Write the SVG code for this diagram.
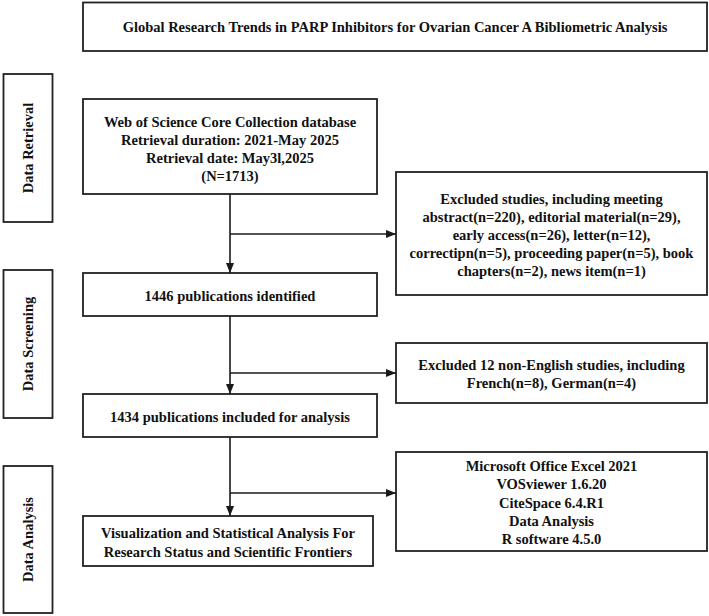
<svg xmlns="http://www.w3.org/2000/svg" width="709" height="616" viewBox="0 0 709 616">
<defs>
<marker id="ah" markerWidth="10" markerHeight="8" refX="10" refY="4" orient="auto" markerUnits="userSpaceOnUse">
<path d="M0,0 L10,4 L0,8 Z" fill="#1a1a1a"/>
</marker>
<style>
.box{fill:#fff;stroke:#222;stroke-width:1.8}
.t{font-family:"Liberation Serif","Times New Roman",serif;font-weight:bold;font-size:14.5px;fill:#111;text-anchor:middle}
.c{fill:none;stroke:#1a1a1a;stroke-width:1.6}
</style>
</defs>
<rect width="709" height="616" fill="#fff"/>
<g id="title">
<rect class="box" x="83" y="2.5" width="624" height="48.5"/>
<text class="t" x="395" y="32">Global Research Trends in PARP Inhibitors for Ovarian Cancer A Bibliometric Analysis</text>
</g>
<g id="stage-retrieval">
<rect class="box" x="3.5" y="74" width="49" height="148"/>
<text class="t" transform="translate(33,148) rotate(-90)">Data Retrieval</text>
</g>
<g id="stage-screening">
<rect class="box" x="3.5" y="270" width="49" height="148"/>
<text class="t" transform="translate(33,344) rotate(-90)">Data Screening</text>
</g>
<g id="stage-analysis">
<rect class="box" x="3.5" y="466" width="49" height="147"/>
<text class="t" transform="translate(33,539.5) rotate(-90)">Data Analysis</text>
</g>
<g id="wos">
<rect class="box" x="83" y="99" width="294" height="95"/>
<text class="t" x="230" y="127">Web of Science Core Collection database</text>
<text class="t" x="230" y="145">Retrieval duration: 2021-May 2025</text>
<text class="t" x="230" y="163">Retrieval date: May3l,2025</text>
<text class="t" x="230" y="181">(N=1713)</text>
</g>
<g id="excluded1">
<rect class="box" x="396" y="172" width="311" height="123"/>
<text class="t" x="551.5" y="204">Excluded studies, including meeting</text>
<text class="t" x="551.5" y="222">abstract(n=220), editorial material(n=29),</text>
<text class="t" x="551.5" y="240">early access(n=26), letter(n=12),</text>
<text class="t" x="551.5" y="258">correctipn(n=5), proceeding paper(n=5), book</text>
<text class="t" x="551.5" y="276">chapters(n=2), news item(n=1)</text>
</g>
<g id="identified">
<rect class="box" x="83" y="273" width="294" height="43"/>
<text class="t" x="230" y="301">1446 publications identified</text>
</g>
<g id="excluded2">
<rect class="box" x="396" y="343" width="311" height="60"/>
<text class="t" x="551.5" y="370">Excluded 12 non-English studies, including</text>
<text class="t" x="551.5" y="388">French(n=8), German(n=4)</text>
</g>
<g id="included">
<rect class="box" x="83" y="394" width="294" height="43"/>
<text class="t" x="230" y="422">1434 publications included for analysis</text>
</g>
<g id="software">
<rect class="box" x="396" y="452" width="311" height="99"/>
<text class="t" x="551.5" y="471">Microsoft Office Excel 2021</text>
<text class="t" x="551.5" y="489">VOSviewer 1.6.20</text>
<text class="t" x="551.5" y="508">CiteSpace 6.4.R1</text>
<text class="t" x="551.5" y="526">Data Analysis</text>
<text class="t" x="551.5" y="544">R software 4.5.0</text>
</g>
<g id="visualization">
<rect class="box" x="83" y="516" width="290" height="50"/>
<text class="t" x="228" y="538">Visualization and Statistical Analysis For</text>
<text class="t" x="228" y="557">Research Status and Scientific Frontiers</text>
</g>
<g id="connectors">
<line class="c" x1="230" y1="194" x2="230" y2="273" marker-end="url(#ah)"/>
<line class="c" x1="230" y1="234" x2="396" y2="234" marker-end="url(#ah)"/>
<line class="c" x1="230" y1="316" x2="230" y2="394" marker-end="url(#ah)"/>
<line class="c" x1="230" y1="373" x2="396" y2="373" marker-end="url(#ah)"/>
<line class="c" x1="230" y1="437" x2="230" y2="516" marker-end="url(#ah)"/>
<line class="c" x1="230" y1="493" x2="396" y2="493" marker-end="url(#ah)"/>
</g>
</svg>
